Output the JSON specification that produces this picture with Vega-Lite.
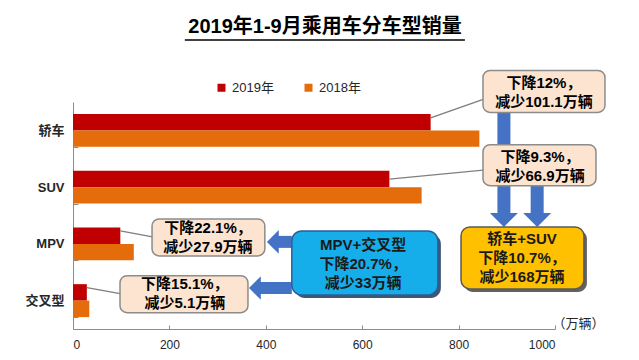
{
  "$schema": "https://vega.github.io/schema/vega-lite/v6.json",
  "width": 482,
  "height": 227,
  "autosize": {"type": "none"},
  "padding": {"left": 73, "top": 102, "right": 84, "bottom": 31},
  "background": "white",
  "title": {"text": "2019年1-9月乘用车分车型销量", "fontSize": 20, "fontWeight": "bold", "font": "Liberation Sans, Noto Sans CJK SC", "color": "#000000", "anchor": "middle", "frame": "group", "offset": 2, "dx": 11},
  "config": {
    "view": {"stroke": null},
    "font": "Liberation Sans, Noto Sans CJK SC",
    "axis": {"grid": false, "domainColor": "#8c8c8c", "tickColor": "#8c8c8c", "labelColor": "#262626"}
  },
  "layer": [
    {
      "data": {"values": [
        {"cat": "轿车", "year": "2019年", "value": 742.0},
        {"cat": "轿车", "year": "2018年", "value": 843.1},
        {"cat": "SUV", "year": "2019年", "value": 656.4},
        {"cat": "SUV", "year": "2018年", "value": 723.3},
        {"cat": "MPV", "year": "2019年", "value": 98.2},
        {"cat": "MPV", "year": "2018年", "value": 126.1},
        {"cat": "交叉型", "year": "2019年", "value": 28.7},
        {"cat": "交叉型", "year": "2018年", "value": 33.8}
      ]},
      "mark": {"type": "bar"},
      "encoding": {
        "y": {"field": "cat", "type": "nominal", "scale": {"domain": ["轿车", "SUV", "MPV", "交叉型"], "paddingInner": 0.42, "paddingOuter": 0.21},
          "axis": {"title": null, "tickBand": "extent", "tickSize": -5, "labelPadding": 14, "labelFontSize": 13, "labelFontWeight": "bold", "labelFont": "Liberation Sans, Noto Sans CJK SC"}},
        "yOffset": {"field": "year", "type": "nominal", "sort": ["2019年", "2018年"]},
        "x": {"field": "value", "type": "quantitative", "scale": {"domain": [0, 1000], "nice": false},
          "axis": {"values": [0, 200, 400, 600, 800, 1000], "format": "d", "tickSize": -4, "labelPadding": 14, "labelFontSize": 12, "title": "（万辆）", "titleX": 479, "titleY": -6, "titleAlign": "left", "titleBaseline": "middle", "titleFontSize": 13, "titleFontWeight": "normal", "titleColor": "#262626", "titleFont": "Noto Sans CJK SC"}},
        "color": {"field": "year", "type": "nominal", "scale": {"domain": ["2019年", "2018年"], "range": ["#C00000", "#E46C0A"]},
          "legend": {"title": null, "orient": "none", "legendX": 142, "legendY": -21, "direction": "horizontal", "columnPadding": 28, "symbolType": "square", "symbolSize": 64, "symbolStrokeWidth": 0, "labelFontSize": 13, "labelColor": "#262626", "labelOffset": 4}}
      }
    },
    {
      "data": {"values": [{"cat": "轿车", "x": 232, "x2": 813}]},
      "mark": {"type": "rule", "color": "#000000", "strokeWidth": 1.5, "yOffset": -90.5, "y2Offset": -90.5},
      "encoding": {"y": {"field": "cat", "type": "nominal"}, "y2": {"field": "cat"}, "x": {"field": "x", "type": "quantitative"}, "x2": {"field": "x2"}}
    },
    {
      "data": {"values": [{"cat": "轿车", "cat2": "MPV", "x": 894}, {"cat": "SUV", "cat2": "MPV", "x": 963}]},
      "mark": {"type": "rule", "color": "#4472C4", "strokeWidth": 13, "yOffset": -20, "y2Offset": -28},
      "encoding": {"y": {"field": "cat", "type": "nominal"}, "y2": {"field": "cat2"}, "x": {"field": "x", "type": "quantitative"}}
    },
    {
      "data": {"values": [{"cat": "MPV", "x": 894}, {"cat": "MPV", "x": 963}]},
      "mark": {"type": "point", "shape": "M-1,-0.5L1,-0.5L0,0.5Z", "size": 784, "filled": true, "color": "#4472C4", "opacity": 1, "yOffset": -24},
      "encoding": {"y": {"field": "cat", "type": "nominal"}, "x": {"field": "x", "type": "quantitative"}}
    },
    {
      "data": {"values": [{"cat": "MPV", "x": 454, "x2": 414.6}]},
      "mark": {"type": "rule", "color": "#4472C4", "strokeWidth": 12, "yOffset": -2},
      "encoding": {"y": {"field": "cat", "type": "nominal"}, "x": {"field": "x", "type": "quantitative"}, "x2": {"field": "x2"}}
    },
    {
      "data": {"values": [{"cat": "MPV", "x": 414.6}]},
      "mark": {"type": "point", "shape": "M0.5,-1L0.5,1L-0.5,0Z", "size": 560, "filled": true, "color": "#4472C4", "opacity": 1, "yOffset": -2},
      "encoding": {"y": {"field": "cat", "type": "nominal"}, "x": {"field": "x", "type": "quantitative"}}
    },
    {
      "data": {"values": [{"cat": "交叉型", "x": 454, "x2": 377.4}]},
      "mark": {"type": "rule", "color": "#4472C4", "strokeWidth": 12, "yOffset": -12.6},
      "encoding": {"y": {"field": "cat", "type": "nominal"}, "x": {"field": "x", "type": "quantitative"}, "x2": {"field": "x2"}}
    },
    {
      "data": {"values": [{"cat": "交叉型", "x": 377.4}]},
      "mark": {"type": "point", "shape": "M0.5,-1L0.5,1L-0.5,0Z", "size": 560, "filled": true, "color": "#4472C4", "opacity": 1, "yOffset": -12.6},
      "encoding": {"y": {"field": "cat", "type": "nominal"}, "x": {"field": "x", "type": "quantitative"}}
    },
    {
      "data": {"values": [{"cat": "轿车", "x": 742, "x2": 851}]},
      "mark": {"type": "rule", "color": "#7f7f7f", "strokeWidth": 1.5, "yOffset": -12.5, "y2Offset": -31},
      "encoding": {"y": {"field": "cat", "type": "nominal"}, "y2": {"field": "cat"}, "x": {"field": "x", "type": "quantitative"}, "x2": {"field": "x2"}}
    },
    {
      "data": {"values": [{"cat": "SUV", "x": 656.4, "x2": 851}]},
      "mark": {"type": "rule", "color": "#7f7f7f", "strokeWidth": 1.5, "yOffset": -8, "y2Offset": -17},
      "encoding": {"y": {"field": "cat", "type": "nominal"}, "y2": {"field": "cat"}, "x": {"field": "x", "type": "quantitative"}, "x2": {"field": "x2"}}
    },
    {
      "data": {"values": [{"cat": "MPV", "x": 98.2, "x2": 165}, {"cat": "交叉型", "x": 28.7, "x2": 98}]},
      "mark": {"type": "rule", "color": "#7f7f7f", "strokeWidth": 1.5, "yOffset": -13, "y2Offset": -7},
      "encoding": {"y": {"field": "cat", "type": "nominal"}, "y2": {"field": "cat"}, "x": {"field": "x", "type": "quantitative"}, "x2": {"field": "x2"}}
    },
    {
      "data": {"values": [{"cat": "轿车", "x": 850.6, "x2": 1103.7}]},
      "mark": {"type": "bar", "height": 42, "yOffset": -39, "fill": "#FCE4D0", "stroke": "#8c8c8c", "strokeWidth": 1.5, "cornerRadius": 7},
      "encoding": {"y": {"field": "cat", "type": "nominal"}, "x": {"field": "x", "type": "quantitative"}, "x2": {"field": "x2"}}
    },
    {
      "data": {"values": [{"cat": "SUV", "x": 850.6, "x2": 1085}]},
      "mark": {"type": "bar", "height": 41, "yOffset": -22, "fill": "#FCE4D0", "stroke": "#8c8c8c", "strokeWidth": 1.5, "cornerRadius": 7},
      "encoding": {"y": {"field": "cat", "type": "nominal"}, "x": {"field": "x", "type": "quantitative"}, "x2": {"field": "x2"}}
    },
    {
      "data": {"values": [{"cat": "MPV", "x": 164, "x2": 398}, {"cat": "交叉型", "x": 97.5, "x2": 363}]},
      "mark": {"type": "bar", "height": 37, "yOffset": -6.5, "fill": "#FCE4D0", "stroke": "#8c8c8c", "strokeWidth": 1.5, "cornerRadius": 7},
      "encoding": {"y": {"field": "cat", "type": "nominal"}, "x": {"field": "x", "type": "quantitative"}, "x2": {"field": "x2"}}
    },
    {
      "data": {"values": [{"cat": "MPV", "x": 805, "x2": 1060}]},
      "mark": {"type": "bar", "height": 62, "yOffset": 17, "xOffset": 3, "x2Offset": 3, "fill": "#3a3a3a", "opacity": 0.8, "cornerRadius": 9},
      "encoding": {"y": {"field": "cat", "type": "nominal"}, "x": {"field": "x", "type": "quantitative"}, "x2": {"field": "x2"}}
    },
    {
      "data": {"values": [{"cat": "MPV", "x": 805, "x2": 1060}]},
      "mark": {"type": "bar", "height": 62, "yOffset": 14, "fill": "#FFC000", "stroke": "#595959", "strokeWidth": 1.5, "cornerRadius": 9},
      "encoding": {"y": {"field": "cat", "type": "nominal"}, "x": {"field": "x", "type": "quantitative"}, "x2": {"field": "x2"}}
    },
    {
      "data": {"values": [{"cat": "MPV", "x": 454, "x2": 757}]},
      "mark": {"type": "bar", "height": 64, "yOffset": 22, "xOffset": 3, "x2Offset": 3, "fill": "#1f3a5a", "opacity": 0.85, "cornerRadius": 10},
      "encoding": {"y": {"field": "cat", "type": "nominal"}, "x": {"field": "x", "type": "quantitative"}, "x2": {"field": "x2"}}
    },
    {
      "data": {"values": [{"cat": "MPV", "x": 454, "x2": 757}]},
      "mark": {"type": "bar", "height": 64, "yOffset": 19, "fill": "#16ADEB", "stroke": "#2E5E96", "strokeWidth": 1.5, "cornerRadius": 10},
      "encoding": {"y": {"field": "cat", "type": "nominal"}, "x": {"field": "x", "type": "quantitative"}, "x2": {"field": "x2"}}
    },
    {
      "data": {"values": [{"cat": "轿车", "x": 977, "label": "下降12%，\n减少101.1万辆"}]},
      "mark": {"type": "text", "yOffset": -47.4, "fontSize": 15, "fontWeight": "bold", "lineBreak": "\n", "lineHeight": 19, "align": "center", "baseline": "middle", "color": "#000000"},
      "encoding": {"y": {"field": "cat", "type": "nominal"}, "x": {"field": "x", "type": "quantitative"}, "text": {"field": "label"}}
    },
    {
      "data": {"values": [{"cat": "SUV", "x": 969, "label": "下降9.3%，\n减少66.9万辆"}]},
      "mark": {"type": "text", "yOffset": -30, "fontSize": 15, "fontWeight": "bold", "lineBreak": "\n", "lineHeight": 19, "align": "center", "baseline": "middle", "color": "#000000"},
      "encoding": {"y": {"field": "cat", "type": "nominal"}, "x": {"field": "x", "type": "quantitative"}, "text": {"field": "label"}}
    },
    {
      "data": {"values": [{"cat": "MPV", "x": 280, "label": "下降22.1%，\n减少27.9万辆"}, {"cat": "交叉型", "x": 232, "label": "下降15.1%，\n减少5.1万辆"}]},
      "mark": {"type": "text", "yOffset": -16.3, "fontSize": 15, "fontWeight": "bold", "lineBreak": "\n", "lineHeight": 19, "align": "center", "baseline": "middle", "color": "#000000"},
      "encoding": {"y": {"field": "cat", "type": "nominal"}, "x": {"field": "x", "type": "quantitative"}, "text": {"field": "label"}}
    },
    {
      "data": {"values": [{"cat": "MPV", "x": 931.5, "label": "轿车+SUV\n下降10.7%，\n减少168万辆"}]},
      "mark": {"type": "text", "yOffset": -5, "fontSize": 15, "fontWeight": "bold", "lineBreak": "\n", "lineHeight": 19, "align": "center", "baseline": "middle", "color": "#1a1a1a"},
      "encoding": {"y": {"field": "cat", "type": "nominal"}, "x": {"field": "x", "type": "quantitative"}, "text": {"field": "label"}}
    },
    {
      "data": {"values": [{"cat": "MPV", "x": 602, "label": "MPV+交叉型\n下降20.7%，\n减少33万辆"}]},
      "mark": {"type": "text", "yOffset": 1, "fontSize": 15, "fontWeight": "bold", "lineBreak": "\n", "lineHeight": 19, "align": "center", "baseline": "middle", "color": "#1a1a1a"},
      "encoding": {"y": {"field": "cat", "type": "nominal"}, "x": {"field": "x", "type": "quantitative"}, "text": {"field": "label"}}
    }
  ]
}
